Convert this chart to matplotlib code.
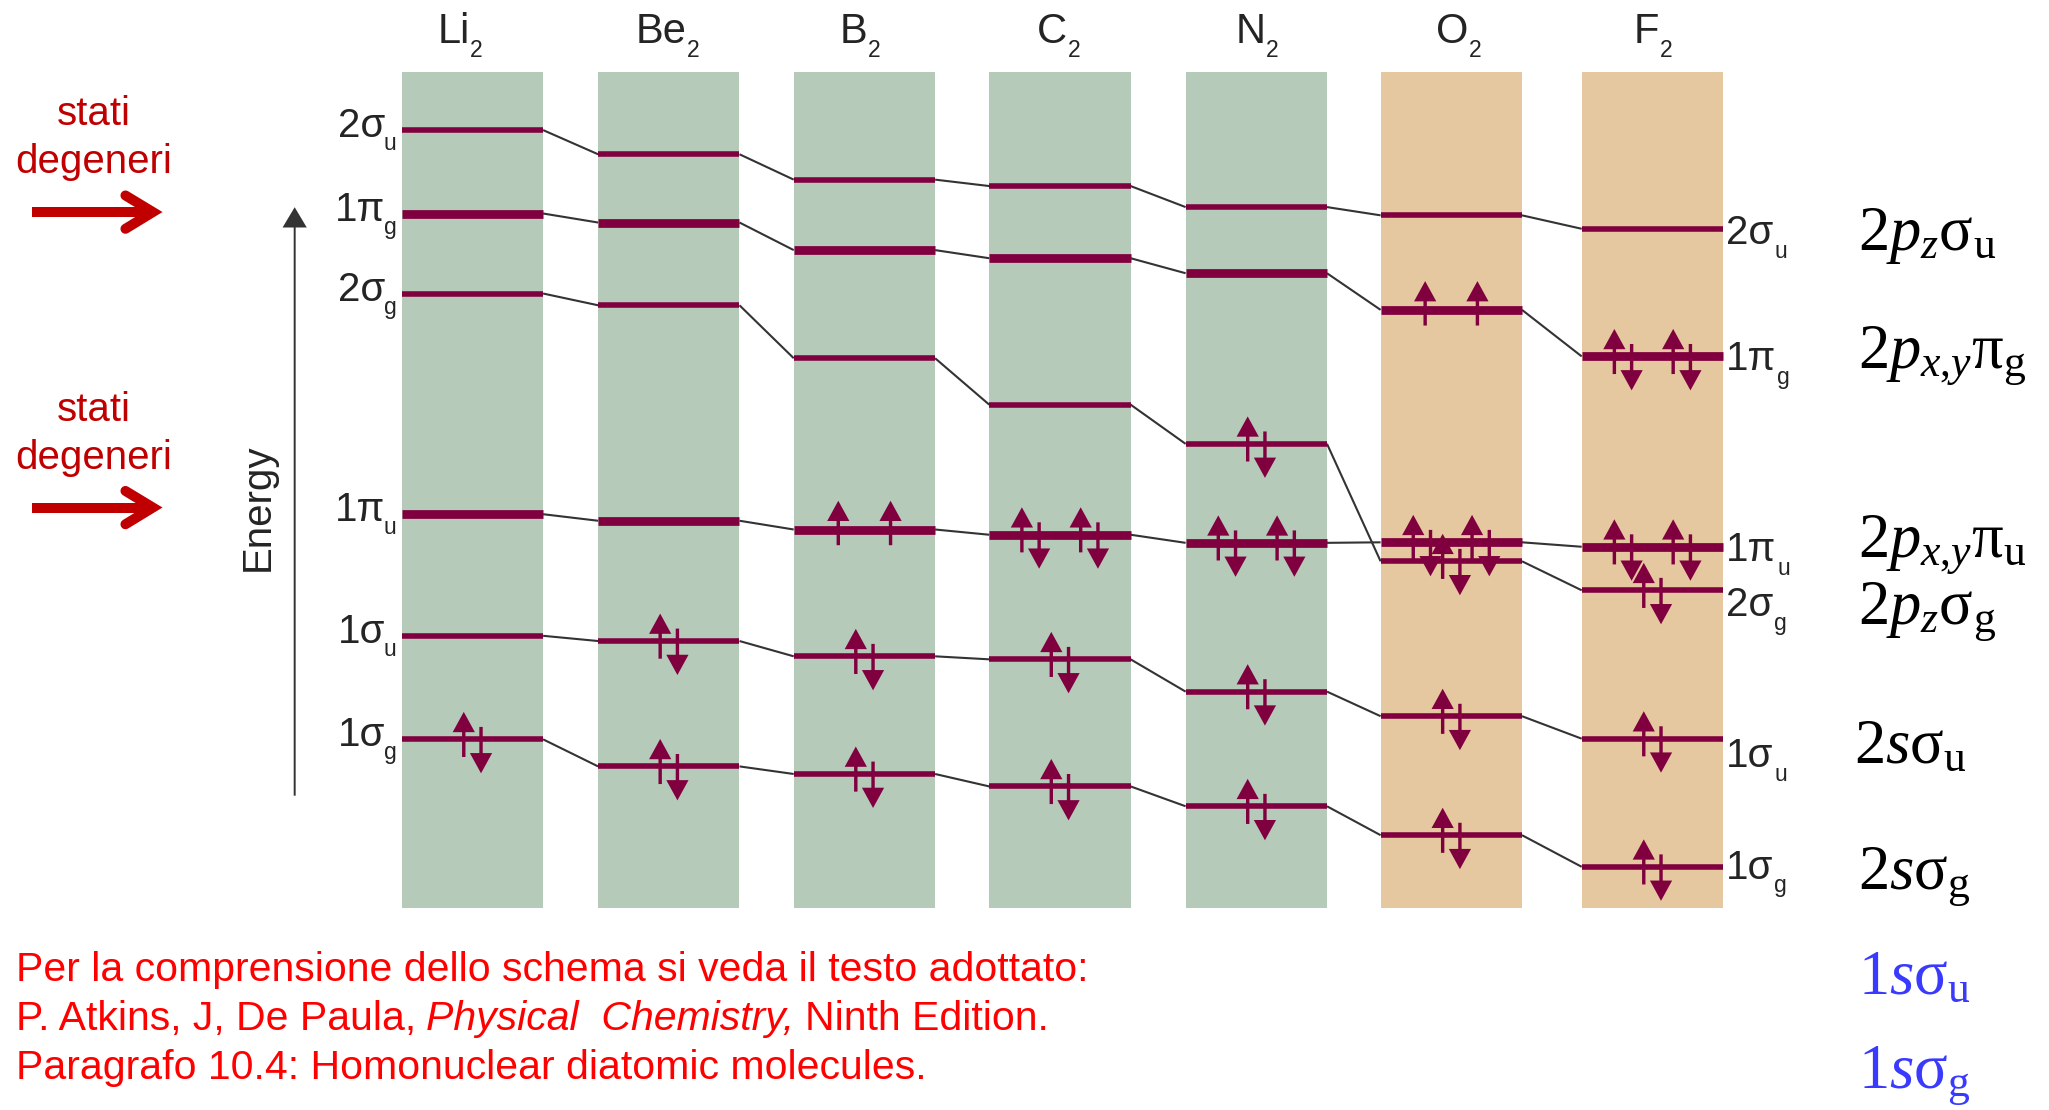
import matplotlib
matplotlib.use("Agg")
import matplotlib.pyplot as plt
from matplotlib.patches import Rectangle

# ---------------- data ----------------
molecules = ["Li", "Be", "B", "C", "N", "O", "F"]
orbital_main = ["1σ", "1σ", "1π", "2σ", "1π", "2σ"]
orbital_sub = ["g", "u", "u", "g", "g", "u"]
orbital_is_pi = [False, False, True, False, True, False]

# relative energies (higher = higher energy), order: 1σg 1σu 1πu 2σg 1πg 2σu
energy_Li2 = [283.5, 362.7, 455.7, 624.5, 685.7, 749.5]
energy_Be2 = [262.8, 358.7, 450.7, 615.5, 678.8, 731.0]
energy_B2 = [257.0, 347.0, 444.0, 575.0, 657.7, 711.6]
energy_C2 = [247.5, 344.7, 440.0, 539.5, 651.5, 706.7]
energy_N2 = [232.3, 320.0, 433.8, 509.5, 640.0, 690.6]
energy_O2 = [210.2, 301.2, 434.2, 419.7, 612.0, 684.3]
energy_F2 = [186.0, 284.0, 430.8, 397.5, 576.4, 674.0]

electrons_Li2 = [2, 0, 0, 0, 0, 0]
electrons_Be2 = [2, 2, 0, 0, 0, 0]
electrons_B2 = [2, 2, 2, 0, 0, 0]
electrons_C2 = [2, 2, 4, 0, 0, 0]
electrons_N2 = [2, 2, 4, 2, 0, 0]
electrons_O2 = [2, 2, 4, 2, 2, 0]
electrons_F2 = [2, 2, 4, 2, 4, 0]

mo_names = [r"$2p_{z}\mathrm{σ}_{\mathrm{u}}$",
            r"$2p_{x{,}y}\mathrm{π}_{\mathrm{g}}$",
            r"$2p_{x{,}y}\mathrm{π}_{\mathrm{u}}$",
            r"$2p_{z}\mathrm{σ}_{\mathrm{g}}$",
            r"$2s\mathrm{σ}_{\mathrm{u}}$",
            r"$2s\mathrm{σ}_{\mathrm{g}}$",
            r"$1s\mathrm{σ}_{\mathrm{u}}$",
            r"$1s\mathrm{σ}_{\mathrm{g}}$"]

side_note = ["stati", "degeneri"]
ref_line1 = "Per la comprensione dello schema si veda il testo adottato:"
ref_line2_a = "P. Atkins, J, De Paula,"
ref_line2_b = "Physical  Chemistry,"
ref_line2_c = "Ninth Edition."
ref_line3 = "Paragrafo 10.4: Homonuclear diatomic molecules."

energies = [energy_Li2, energy_Be2, energy_B2, energy_C2, energy_N2, energy_O2, energy_F2]
electrons = [electrons_Li2, electrons_Be2, electrons_B2, electrons_C2,
             electrons_N2, electrons_O2, electrons_F2]

# ---------------- style / layout ----------------
GREEN = "#b5cab9"
TAN = "#e5c89f"
LEVEL = "#80003f"
LINK = "#333333"
TXT = "#242424"
RED_D = "#c00000"
RED = "#ff0000"
BLUE = "#3a3aff"

plt.rcParams["font.family"] = ["Liberation Sans", "DejaVu Sans"]
plt.rcParams["mathtext.fontset"] = "custom"
plt.rcParams["mathtext.rm"] = "Liberation Serif"
plt.rcParams["mathtext.it"] = "Liberation Serif:italic"
plt.rcParams["mathtext.bf"] = "Liberation Serif:bold"

W, H = 1568.0, 849.0
fig = plt.figure(figsize=(20.49, 11.10), dpi=100)
ax = fig.add_axes([0, 0, 1, 1])
ax.set_xlim(0, W)
ax.set_ylim(0, H)
ax.axis("off")
R = fig.canvas.get_renderer()
PX = fig.bbox.width / W


def D(v):
    """picture row (from top) -> axis y"""
    return H - v


def seq(x, y, parts, align="left", **common):
    texts, widths = [], []
    for p in parts:
        if isinstance(p, (int, float)):
            texts.append(None)
            widths.append(p)
            continue
        s, kw = p
        kw = dict(kw)
        dy = kw.pop("dy", 0)
        t = ax.text(0, y + dy, s, ha="left", va="baseline", **common, **kw)
        texts.append(t)
        widths.append(t.get_window_extent(R).width / PX)
    total = sum(widths)
    x0 = x - total if align == "right" else (x - total / 2 if align == "center" else x)
    for t, w in zip(texts, widths):
        if t is not None:
            t.set_x(x0)
        x0 += w


col_left = [307.4, 457.7, 607.4, 757.0, 907.3, 1056.5, 1210.4]
col_w = 108.2
col_top, col_bot = 55.0, 694.8
col_fill = [GREEN] * 5 + [TAN] * 2
label_cx = [352, 511, 658, 810, 962, 1116, 1265]

for xl, c in zip(col_left, col_fill):
    ax.add_patch(Rectangle((xl, D(col_bot)), col_w, col_bot - col_top,
                           fc=c, ec="none", zorder=1))

# connectors
for i in range(len(molecules) - 1):
    for k in range(len(orbital_main)):
        ax.plot([col_left[i] + col_w, col_left[i + 1]],
                [energies[i][k], energies[i + 1][k]],
                color=LINK, lw=1.5, zorder=2, solid_capstyle="butt")

# levels
for xl, E in zip(col_left, energies):
    for k, e in enumerate(E):
        ax.plot([xl, xl + col_w], [e, e], color=LEVEL,
                lw=6.3 if orbital_is_pi[k] else 4.0,
                solid_capstyle="butt", zorder=3)


def spin(x, e, up, single=False):
    if up:
        y0, y1 = (e - 12, e + 22) if single else (e - 13.5, e + 21)
    else:
        y0, y1 = e + 9.5, e - 26
    ax.arrow(x, y0, 0, y1 - y0, width=2.6, head_width=17, head_length=15.5,
             length_includes_head=True, fc=LEVEL, ec="none", zorder=5)


def pair(xc, e):
    spin(xc - 6.6, e, True)
    spin(xc + 6.6, e, False)


for xl, E, N in zip(col_left, energies, electrons):
    xc = xl + col_w / 2
    for k, n in enumerate(N):
        if n == 0:
            continue
        e = E[k]
        if not orbital_is_pi[k]:
            pair(xc, e)
        elif n == 2:
            spin(xc - 20, e, True, single=True)
            spin(xc + 20, e, True, single=True)
        else:
            pair(xc - 22.5, e)
            pair(xc + 22.5, e)

# column labels
for cx, m in zip(label_cx, molecules):
    seq(cx, D(33), [(m, dict(size=30)), 0.3, ("2", dict(size=16.5, dy=-10.7))],
        align="center", color=TXT, zorder=6)

# left orbital labels
for k in range(len(orbital_main)):
    seq(303.5, energy_Li2[k] - 5.4,
        [(orbital_main[k], dict(size=29)), -0.8,
         (orbital_sub[k], dict(size=16.5, dy=-10))],
        align="right", color=TXT, zorder=6)

# right orbital labels
right_base = [672, 586.5, 429, 471, 283, 187]
for k in range(len(orbital_main)):
    seq(1321, D(right_base[k]),
        [(orbital_main[k], dict(size=29)), 0.5,
         (orbital_sub[k], dict(size=16.5, dy=-10.5))],
        align="left", color=TXT, zorder=6)

# energy axis
ax.arrow(225.5, D(608.6), 0, 608.6 - 158.5, width=1.5, head_width=18.5,
         head_length=15.5, length_includes_head=True, fc=LINK, ec="none", zorder=4)
ax.text(197, D(388), "Energy", rotation=90, ha="center", va="center",
        size=29, color=TXT)

# red side notes with arrows
for off in [0, 226]:
    ax.text(72, D(95.7 + off), side_note[0], ha="center", va="baseline",
            size=29, color=RED_D)
    ax.text(72, D(132.4 + off), side_note[1], ha="center", va="baseline",
            size=29, color=RED_D)
    ax.plot([24.5, 112], [D(162.2 + off)] * 2, lw=7.2, color=RED_D,
            solid_capstyle="butt")
    ax.plot([96, 117, 96], [D(149.5 + off), D(162.2 + off), D(175 + off)],
            lw=7.2, color=RED_D, solid_capstyle="round", solid_joinstyle="miter")

# right-hand MO names
mo_x = [1422, 1422, 1422, 1422, 1418.6, 1422, 1422, 1422]
mo_base = [191.5, 281, 425.6, 476.5, 584, 679.4, 760.7, 831.6]
mo_col = ["black"] * 6 + [BLUE] * 2
for s, x, b, c in zip(mo_names, mo_x, mo_base, mo_col):
    ax.text(x, D(b), s, ha="left", va="baseline", size=45, color=c)

# bottom reference text
FS = 29.5
ax.text(12, D(750), ref_line1, ha="left", va="baseline", size=FS, color=RED)
t1 = ax.text(0, 0, "P P", size=FS)
t2 = ax.text(0, 0, "PP", size=FS)
gap = (t1.get_window_extent(R).width - t2.get_window_extent(R).width) / PX
t1.remove()
t2.remove()
seq(12, D(788), [(ref_line2_a, dict(size=FS)), gap,
                 (ref_line2_b, dict(size=FS, style="italic")), gap,
                 (ref_line2_c, dict(size=FS))], align="left", color=RED)
ax.text(12, D(825.4), ref_line3, ha="left", va="baseline", size=FS, color=RED)

fig.savefig("out.png", dpi=100)
